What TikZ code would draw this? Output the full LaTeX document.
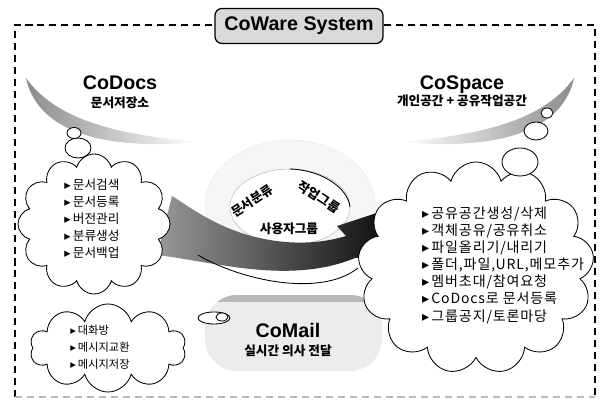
\documentclass[tikz,border=0pt]{standalone}
\usepackage{fontspec}
\setmainfont{Liberation Sans}
\newfontfamily\kr{Noto Sans CJK KR}
\newfontfamily\krwide{Noto Sans CJK KR}[LetterSpace=6]
\newfontfamily\symf{DejaVu Sans}
\usetikzlibrary{shapes.symbols}
\newcommand\itm[1]{{\symf ▸}\,#1}

\begin{document}
\begin{tikzpicture}[x=0.025cm,y=-0.025cm,
  cloudbox/.style={cloud, draw, fill=white, line width=0.6pt, cloud ignores aspect},
  bubble/.style={draw, fill=white, line width=0.6pt},
  itemlist/.style={align=left, inner sep=0pt},
  heading/.style={anchor=base, font=\fontsize{14}{16}\selectfont\bfseries},
  subhead/.style={anchor=base, font=\kr\fontsize{9}{10}\selectfont\bfseries},
  ringlabel/.style={font=\kr\fontsize{9}{10}\selectfont\bfseries}]

\useasboundingbox (0,0) rectangle (600,405);

\shade[left color=gray!90, right color=white] (26,78) .. controls (36,125) and (90,152) .. (198,142)
  .. controls (110,134) and (55,118) .. (26,78);
\shade[right color=gray!90, left color=white] (574,78) .. controls (564,125) and (510,152) .. (402,142)
  .. controls (490,134) and (545,118) .. (574,78);

\begin{scope}
\clip[rounded corners=0.8cm] (205,295) rectangle (382,371);
\fill[gray!15] (205,295) rectangle (382,371);
\fill[gray!55] (205,295) rectangle (382,302);
\end{scope}

\fill[gray!7] (290,205) ellipse [x radius=85, y radius=65];
\draw[gray!35, line width=0.4pt, densely dotted] (290,205) ellipse [x radius=85, y radius=65];
\fill[white] (290,207) ellipse [x radius=60, y radius=38];
\draw[gray!50, line width=0.4pt] (290,207) ellipse [x radius=60, y radius=38];
\draw[line width=0.6pt] (290,169) .. controls (322,170) and (348,188) .. (350,207);
\shade[left color=gray!80, middle color=gray!20, right color=black]
  (157,255) .. controls (215,262) and (290,285) .. (355,258) -- (410,254) -- (392,208) -- (337,226)
  -- (346,236) .. controls (300,250) and (250,240) .. (215,222) .. controls (195,212) and (182,202) .. (172,196) -- cycle;
\draw[line width=0.6pt] (198,255) .. controls (240,280) and (320,298) .. (358,268);

\node[ringlabel, rotate=33] (sortlbl) at (252,201) {문서분류};
\node[ringlabel, rotate=-33] (grouplbl) at (319,197) {작업그룹};
\node[ringlabel] (userlbl) at (289,229) {사용자그룹};

\node[cloudbox, cloud puffs=12, minimum width=3.8cm, minimum height=3.5cm] (docscloud) at (94,224) {};
\node[itemlist, font=\kr\fontsize{9}{12}\selectfont] (docsitems) at (92,219)
  {\itm{문서검색}\\ \itm{문서등록}\\ \itm{버전관리}\\ \itm{분류생성}\\ \itm{문서백업}};
\draw[bubble] (78,148) ellipse [x radius=13, y radius=10];
\draw[bubble] (74,133) ellipse [x radius=7, y radius=5.5];

\node[cloudbox, cloud puffs=13, minimum width=5.9cm, minimum height=5.3cm] (spacecloud) at (476,268) {};
\node[itemlist, font=\krwide\fontsize{10}{12.2}\selectfont] (spaceitems) at (503,265)
  {\itm{공유공간생성/삭제}\\ \itm{객체공유/공유취소}\\ \itm{파일올리기/내리기}\\ \itm{폴더,파일,URL,메모추가}\\
   \itm{멤버초대/참여요청}\\ \itm{CoDocs로 문서등록}\\ \itm{그룹공지/토론마당}};
\draw[bubble] (520,162) ellipse [x radius=18, y radius=14];
\draw[bubble] (536,131) ellipse [x radius=12, y radius=9];
\draw[bubble] (547,113) ellipse [x radius=6, y radius=5];

\node[cloudbox, cloud puffs=10, minimum width=3.9cm, minimum height=2.2cm] (mailcloud) at (108,348) {};
\node[itemlist, font=\kr\fontsize{8}{12}\selectfont] (mailitems) at (100,347)
  {\itm{대화방}\\ \itm{메시지교환}\\ \itm{메시지저장}};
\draw[bubble] (214,318) ellipse [x radius=16, y radius=6];
\draw[bubble] (222,317) ellipse [x radius=6, y radius=4];

\draw[line width=1.1pt, dash pattern=on 5pt off 3.5pt] (15,397) -- (15,25) -- (595,25) -- (595,397);
\draw[gray!55, line width=0.8pt, dash pattern=on 5pt off 3.5pt] (15,397) -- (595,397);

\node[draw, line width=0.9pt, rounded corners=5pt, fill=gray!30, minimum width=4.2cm, minimum height=0.875cm,
  font=\fontsize{14}{16}\selectfont\bfseries] (title) at (299,26) {CoWare System};

\node[heading] (docs) at (120,90) {CoDocs};
\node[subhead] (docssub) at (120,108) {문서저장소};
\node[heading] (space) at (462,90) {CoSpace};
\node[subhead] (spacesub) at (462,106) {개인공간 + 공유작업공간};
\node[heading] (mail) at (288,338) {CoMail};
\node[subhead] (mailsub) at (288,356) {실시간 의사 전달};
\end{tikzpicture}
\end{document}
